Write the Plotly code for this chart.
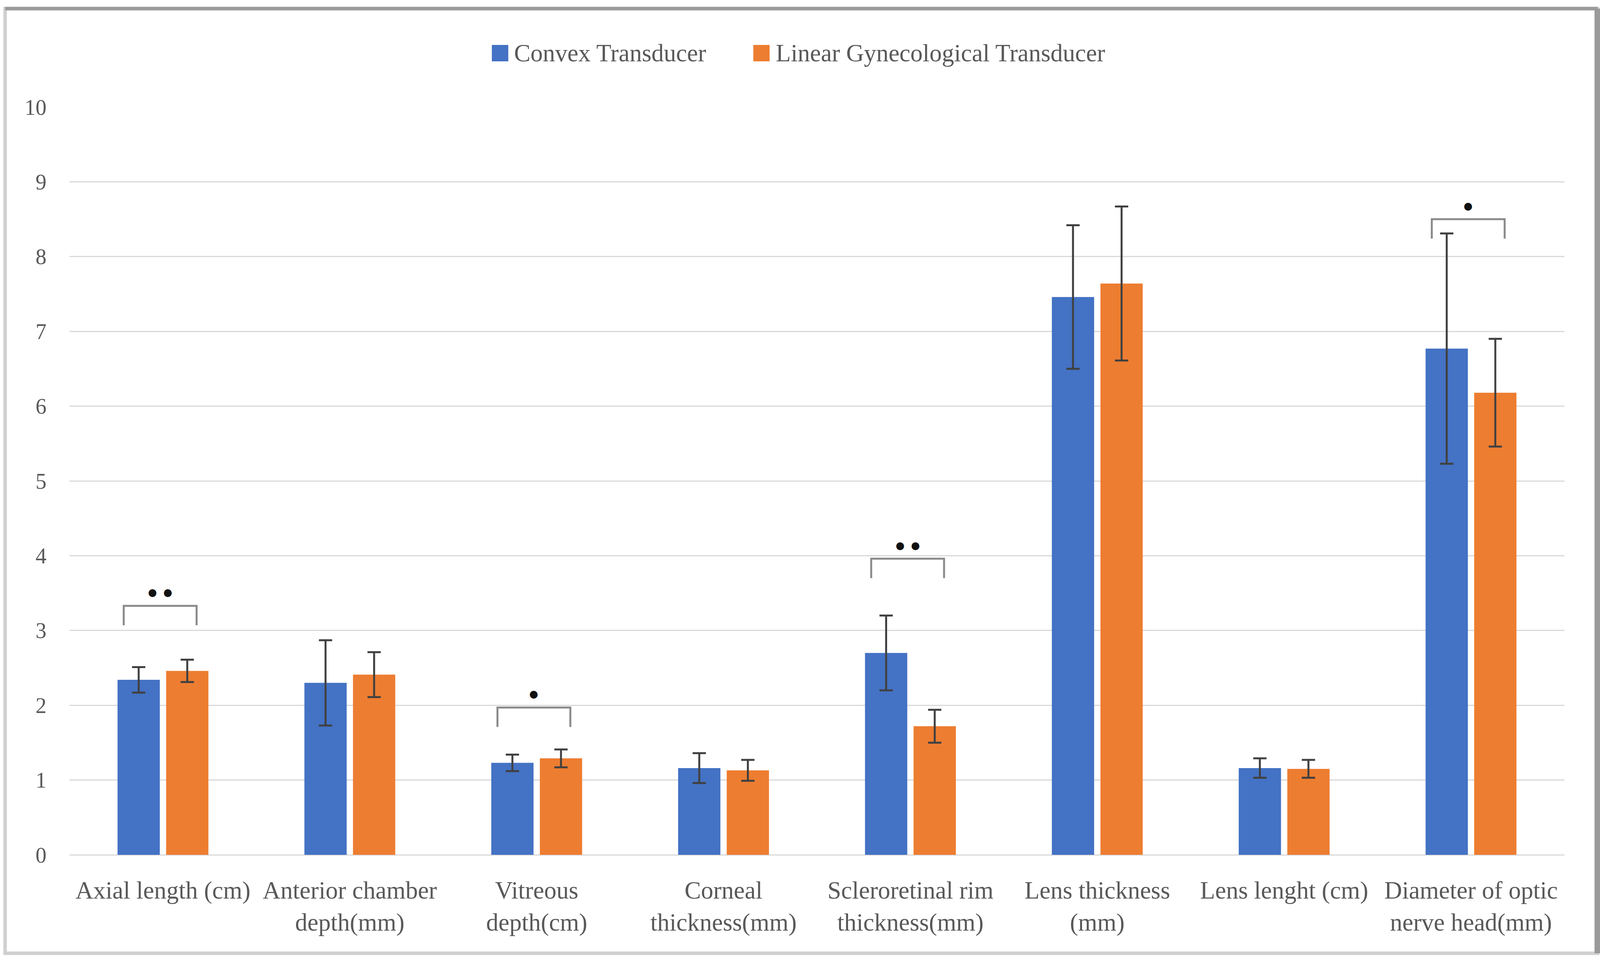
import plotly.graph_objects as go

categories = [
    "Axial length (cm)",
    "Anterior chamber<br>depth(mm)",
    "Vitreous<br>depth(cm)",
    "Corneal<br>thickness(mm)",
    "Scleroretinal rim<br>thickness(mm)",
    "Lens thickness<br>(mm)",
    "Lens lenght (cm)",
    "Diameter of optic<br>nerve head(mm)",
]
convex_mean = [2.34, 2.30, 1.23, 1.16, 2.70, 7.46, 1.16, 6.77]
convex_sd = [0.17, 0.57, 0.11, 0.20, 0.50, 0.96, 0.13, 1.54]
linear_mean = [2.46, 2.41, 1.29, 1.13, 1.72, 7.64, 1.15, 6.18]
linear_sd = [0.15, 0.30, 0.12, 0.14, 0.22, 1.03, 0.12, 0.72]

series_names = ["Convex Transducer", "Linear Gynecological Transducer"]
colors = ["#4472C4", "#ED7D31"]

# significance brackets
sig_index = [0, 2, 4, 7]
sig_top = [3.33, 1.97, 3.96, 8.50]
sig_label = ["\u25CF  \u25CF", "\u25CF", "\u25CF  \u25CF", "\u25CF"]

y_ticks = [0, 1, 2, 3, 4, 5, 6, 7, 8, 9, 10]

FONT = "Liberation Serif"
GRAY = "#595959"
W, H = 4395, 2470
ML, MR, MT, MB = 191, 98, 274, 282

fig = go.Figure()
for name, mean, sd, col in [
    (series_names[0], convex_mean, convex_sd, colors[0]),
    (series_names[1], linear_mean, linear_sd, colors[1]),
]:
    fig.add_trace(go.Bar(
        x=categories, y=mean, name=name, marker_color=col,
        marker_line_width=0, showlegend=False,
        error_y=dict(type="data", array=sd, visible=True, color="#404040",
                     thickness=5, width=17),
    ))

shapes = []
annotations = []
for i, top, lab in zip(sig_index, sig_top, sig_label):
    x0, x1 = i - 0.21, i + 0.18
    drop = 0.26
    shapes.append(dict(type="path", xref="x", yref="y",
                       path=f"M {x0},{top - drop} L {x0},{top} L {x1},{top} L {x1},{top - drop}",
                       line=dict(color="#8a8a8a", width=5)))
    annotations.append(dict(x=(x0 + x1) / 2, y=top + 0.18, xref="x", yref="y",
                            text=lab, showarrow=False, yanchor="middle",
                            font=dict(family="DejaVu Sans", size=26, color="#111111")))

# outer chart frame (light sides, darker top and right edges)
bx0, bx1, by0, by1 = -0.0431, 1.0222, -0.1317, 1.1317
shapes.append(dict(type="rect", xref="paper", yref="paper",
                   x0=bx0, x1=bx1, y0=by0, y1=by1,
                   line=dict(color="#d0d0d0", width=9), fillcolor="rgba(0,0,0,0)",
                   layer="below"))
shapes.append(dict(type="line", xref="paper", yref="paper",
                   x0=bx0, x1=bx1, y0=by1, y1=by1,
                   line=dict(color="#9a9a9a", width=9)))
shapes.append(dict(type="line", xref="paper", yref="paper",
                   x0=bx1, x1=bx1, y0=by0, y1=by1,
                   line=dict(color="#9a9a9a", width=16)))

# legend (drawn)
leg_items = [(0.2825, 0.2935, 0.2969), (0.4574, 0.4683, 0.4718)]
for (sx0, sx1, tx), name, col in zip(leg_items, series_names, colors):
    shapes.append(dict(type="rect", xref="paper", yref="paper",
                       x0=sx0, x1=sx1, y0=1.0611, y1=1.0831,
                       fillcolor=col, line=dict(width=0)))
    annotations.append(dict(x=tx, y=1.0721, xref="paper", yref="paper",
                            text=name, showarrow=False, xanchor="left",
                            yanchor="middle",
                            font=dict(family=FONT, size=63, color=GRAY)))

fig.update_layout(
    width=W, height=H,
    margin=dict(l=ML, r=MR, t=MT, b=MB, autoexpand=False),
    paper_bgcolor="white", plot_bgcolor="white",
    barmode="group", bargap=0.48, bargroupgap=0.13,
    showlegend=False,
    shapes=shapes, annotations=annotations,
    font=dict(family=FONT, color=GRAY),
)
fig.update_xaxes(showgrid=False, showline=False, ticks="",
                 tickfont=dict(family=FONT, size=63, color=GRAY),
                 ticklabelstandoff=48)
fig.update_yaxes(range=[0, 10], tickvals=y_ticks, showgrid=True,
                 gridcolor="#d9d9d9", gridwidth=3, zeroline=True,
                 zerolinecolor="#d9d9d9", zerolinewidth=3, showline=False,
                 tickfont=dict(family=FONT, size=56, color=GRAY),
                 ticklabelstandoff=58)

# fit the figure to the actual viewport
post = """
var gd = document.getElementById('{plot_id}');
document.body.style.margin = '0';
document.body.style.overflow = 'hidden';
var iw = window.innerWidth, ih = window.innerHeight;
var sx = iw / %d, sy = ih / %d;
Plotly.relayout(gd, {width: iw, height: ih,
  'margin.l': %d * sx, 'margin.r': %d * sx,
  'margin.t': %d * sy, 'margin.b': %d * sy});
""" % (W, H, ML, MR, MT, MB)

fig.write_html("out.html", post_script=post, config={"displayModeBar": False})
